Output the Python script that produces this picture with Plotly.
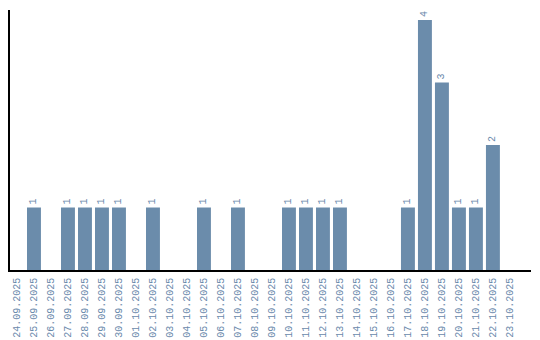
import plotly.graph_objects as go

dates = ["24.09.2025", "25.09.2025", "26.09.2025", "27.09.2025", "28.09.2025",
         "29.09.2025", "30.09.2025", "01.10.2025", "02.10.2025", "03.10.2025",
         "04.10.2025", "05.10.2025", "06.10.2025", "07.10.2025", "08.10.2025",
         "09.10.2025", "10.10.2025", "11.10.2025", "12.10.2025", "13.10.2025",
         "14.10.2025", "15.10.2025", "16.10.2025", "17.10.2025", "18.10.2025",
         "19.10.2025", "20.10.2025", "21.10.2025", "22.10.2025", "23.10.2025"]
counts = [0, 1, 0, 1, 1, 1, 1, 0, 1, 0,
          0, 1, 0, 1, 0, 0, 1, 1, 1, 1,
          0, 0, 0, 1, 4, 3, 1, 1, 2, 0]

labels = [str(v) if v > 0 else "" for v in counts]

fig = go.Figure(go.Bar(
    x=dates, y=counts, text=labels,
    textposition="outside", textangle=-90,
    textfont=dict(family="Liberation Mono", size=10, color="#6a89ab"),
    marker=dict(color="#6b8cab", line=dict(width=0)),
    cliponaxis=False,
))
fig.update_layout(
    width=540, height=340,
    margin=dict(l=10, r=9, t=10, b=70),
    plot_bgcolor="white", paper_bgcolor="white",
    bargap=0.18, showlegend=False,
    xaxis=dict(type="category", tickangle=-90, showgrid=False, ticks="",
               range=[-0.41, 30.24],
               automargin=False, ticklabelstandoff=2,
               showline=True, linecolor="black", linewidth=1.5,
               tickfont=dict(family="Liberation Mono", size=10, color="#6a89ab")),
    yaxis=dict(range=[0, 4.16], showgrid=False, showticklabels=False, ticks="",
               automargin=False,
               showline=True, linecolor="black", linewidth=1.5, zeroline=False),
)
fig.write_html("out.html")
